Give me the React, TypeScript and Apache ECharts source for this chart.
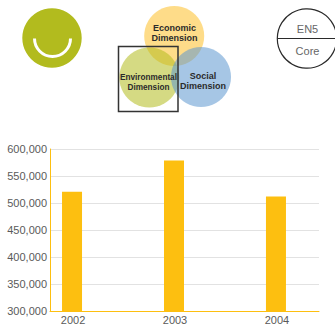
import React, { useEffect, useRef } from "react";
import * as echarts from "echarts";

const years = [2002, 2003, 2004];
const emissions = [521000, 578500, 512000];
const tickLabelColor = "#5a5a5a";
const barColor = "#fdbf10";
const fontFamily = "'Liberation Sans', Arial, sans-serif";

// Names shown in the three overlapping circles
const economicLabel = "Economic\nDimension";
const environmentalLabel = "Environmental\nDimension";
const socialLabel = "Social\nDimension";

function venn(cx: number, cy: number, fill: string, opacity: number) {
  return {
    type: "circle",
    shape: { cx, cy, r: 30 },
    style: { fill, opacity },
    silent: true,
  };
}

function caption(x: number, y: number, text: string, size: number, color: string, weight = "bold") {
  return {
    type: "text",
    x,
    y,
    silent: true,
    style: {
      text,
      fill: color,
      font: `${weight} ${size}px ${fontFamily}`,
      align: "center",
      verticalAlign: "middle",
      lineHeight: 10,
    },
  };
}

export default function App() {
  const ref = useRef<HTMLDivElement>(null);

  useEffect(() => {
    if (!ref.current) return;
    const chart = echarts.init(ref.current, undefined, { renderer: "svg" });
    chart.setOption({
      animation: false,
      grid: { left: 50, right: 16, top: 149, bottom: 16 },
      xAxis: {
        type: "value",
        min: 2001.784,
        max: 2004.422,
        splitLine: { show: false },
        axisTick: { show: false },
        axisLine: { show: true, onZero: false, lineStyle: { color: barColor, width: 1 } },
        axisLabel: {
          customValues: years,
          formatter: (v: number) => String(v),
          color: tickLabelColor,
          fontSize: 11,
          fontFamily,
          margin: 3,
          padding: [0, 0, 0, 2],
          showMinLabel: true,
          showMaxLabel: true,
        },
      },
      yAxis: {
        type: "value",
        min: 300000,
        max: 600000,
        interval: 50000,
        axisTick: { show: false },
        axisLine: { show: true, onZero: false, lineStyle: { color: barColor, width: 1 } },
        splitLine: { show: true, showMinLine: false, lineStyle: { color: "#e2e2e2", width: 1 } },
        axisLabel: {
          formatter: (v: number) => v.toLocaleString("en-US"),
          color: tickLabelColor,
          fontSize: 11,
          fontFamily,
          margin: 3,
          padding: [3, 0, 0, 0],
        },
      },
      series: [
        {
          type: "bar",
          barWidth: 20,
          itemStyle: { color: barColor },
          data: years.map((y, i) => [y, emissions[i]]),
        },
      ],
      graphic: [
        // Smiley badge
        { type: "circle", shape: { cx: 52, cy: 38, r: 29.7 }, style: { fill: "#b2bb1e" }, silent: true },
        {
          type: "arc",
          shape: { cx: 52.5, cy: 38.5, r: 18, startAngle: 0, endAngle: Math.PI, clockwise: true },
          style: { stroke: "#ffffff", lineWidth: 3, fill: "none" },
          silent: true,
        },
        // Three dimensions
        venn(174.2, 36, "#fdb913", 0.5),
        venn(149.3, 77.5, "#b2bb1e", 0.55),
        venn(201, 77, "#5d97d0", 0.55),
        caption(174.5, 33, economicLabel, 9, "#2b2b2b"),
        caption(148.5, 82, environmentalLabel, 8.2, "#2b2b2b"),
        caption(203, 81, socialLabel, 9, "#2b2b2b"),
        {
          type: "rect",
          shape: { x: 118.5, y: 46.5, width: 59.5, height: 65 },
          style: { fill: "none", stroke: "#333333", lineWidth: 1.5 },
          silent: true,
        },
        // Indicator badge
        { type: "circle", shape: { cx: 307, cy: 38.5, r: 29.7 }, style: { fill: "#ffffff", stroke: "#2a2a2a", lineWidth: 1.2 }, silent: true },
        { type: "line", shape: { x1: 277.5, y1: 38.5, x2: 336, y2: 38.5 }, style: { stroke: "#2a2a2a", lineWidth: 1.2 }, silent: true },
        caption(307.5, 28.5, "EN5", 11, "#666666", "normal"),
        caption(307.5, 50.5, "Core", 11, "#666666", "normal"),
      ],
    });
    return () => chart.dispose();
  }, []);

  return (
    <div
      ref={ref}
      style={{ position: "absolute", left: 0, top: 0, width: 335, height: 327, background: "#ffffff" }}
    />
  );
}
